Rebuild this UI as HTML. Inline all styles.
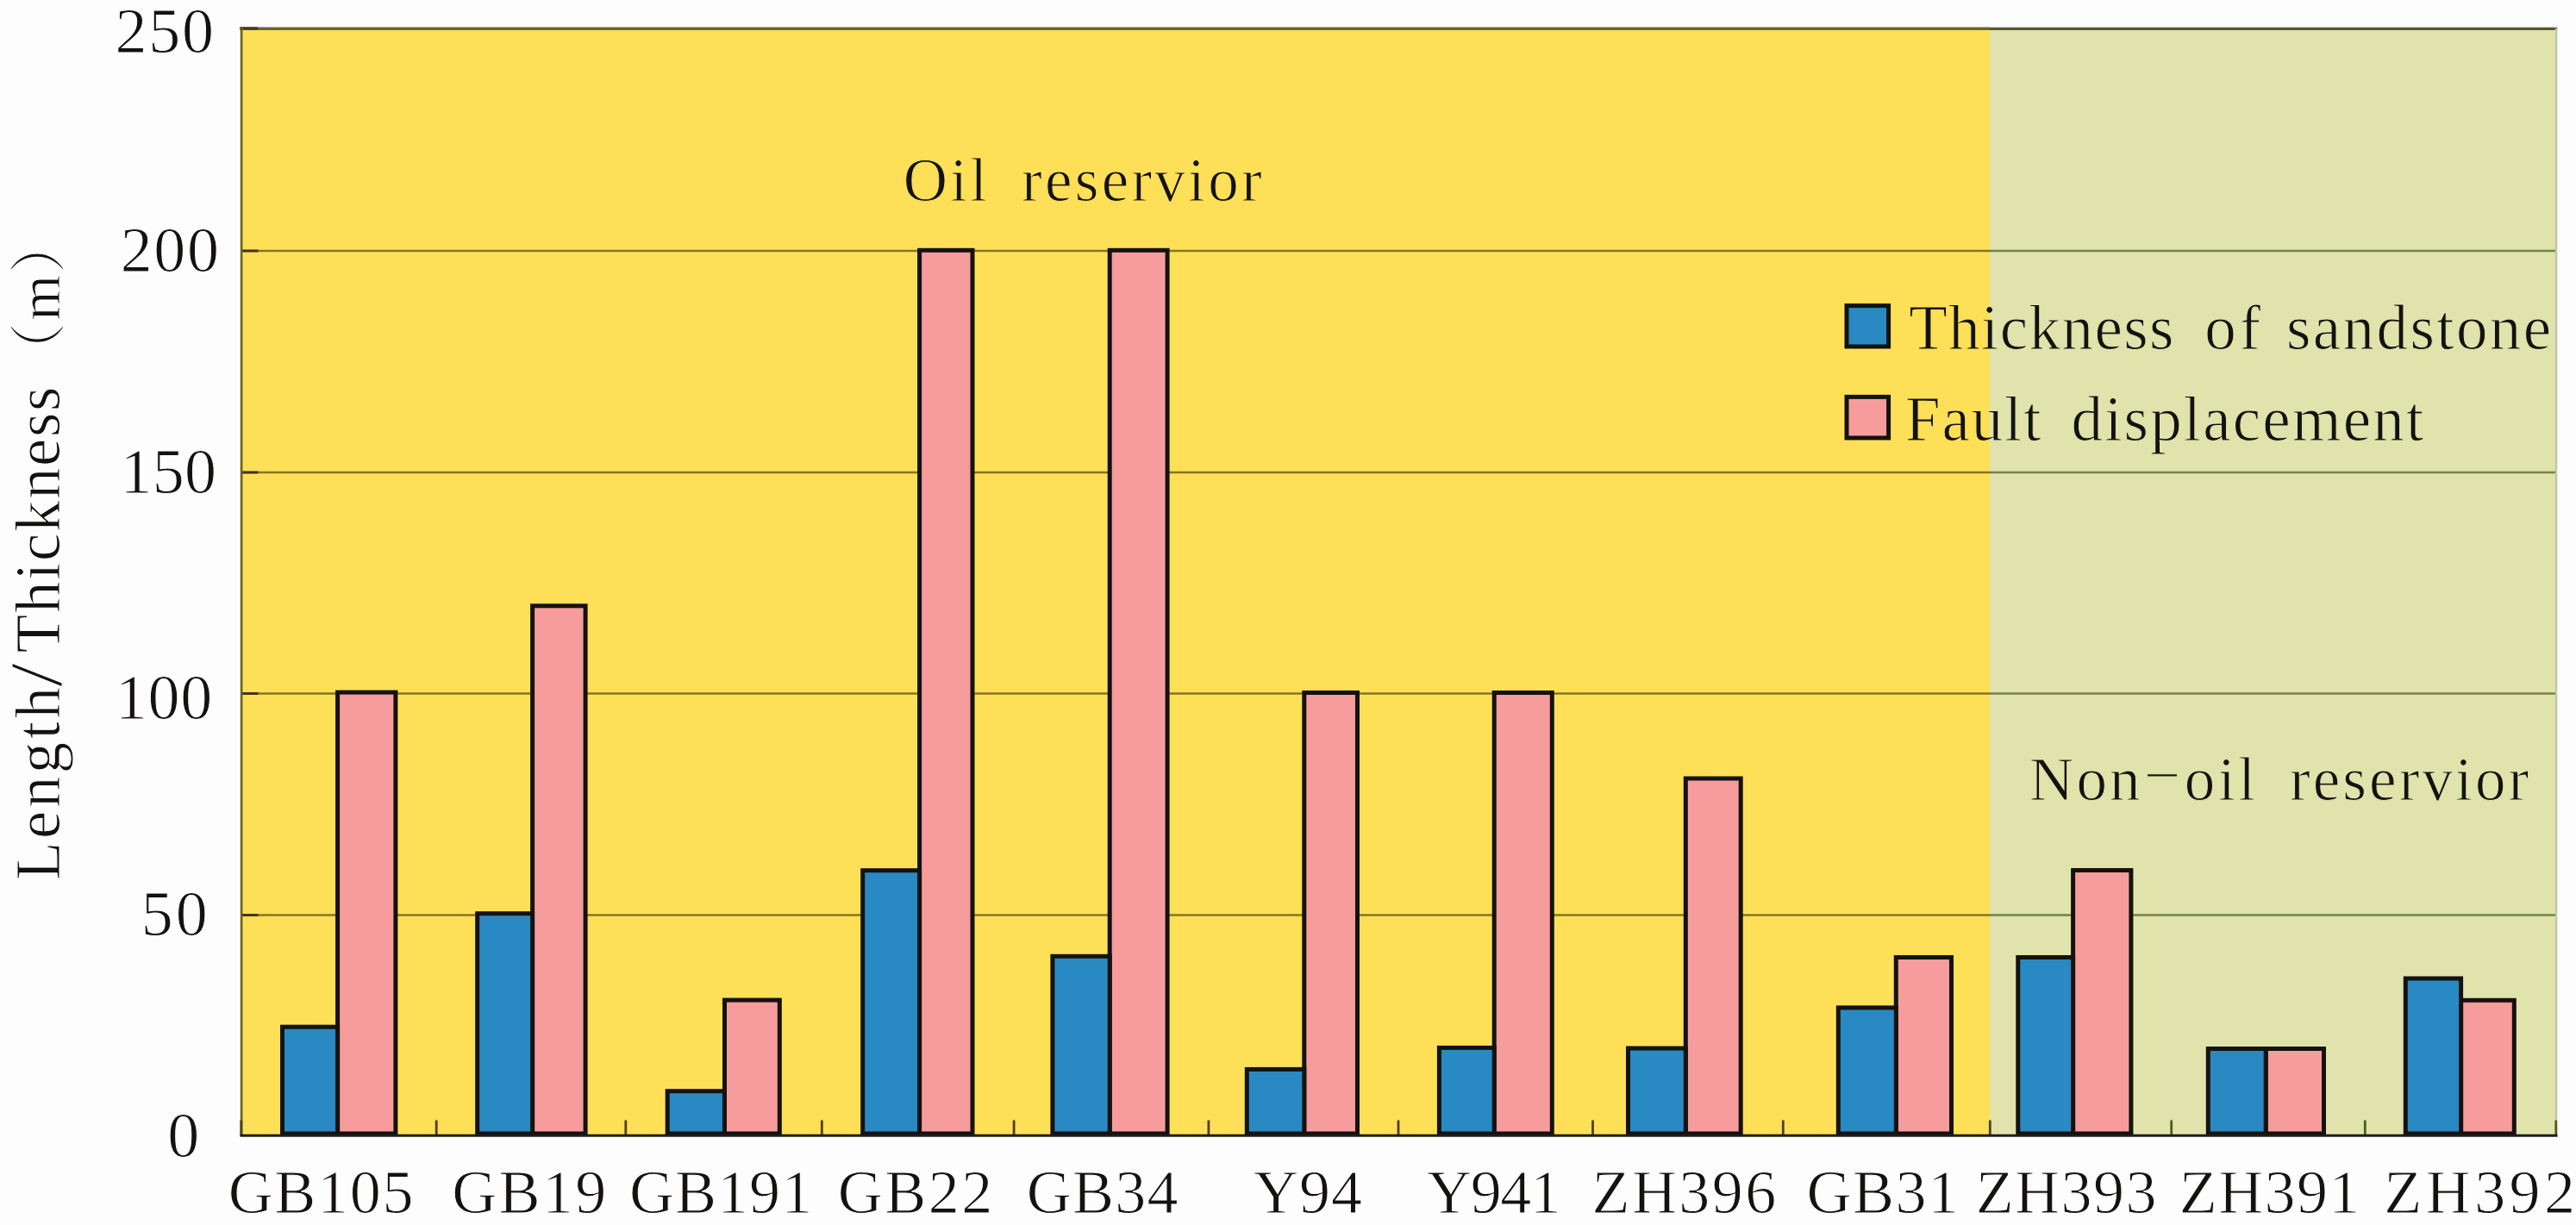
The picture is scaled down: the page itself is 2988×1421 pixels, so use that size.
<!DOCTYPE html>
<html lang="en"><head><meta charset="utf-8"><title>Oil reservoir chart</title>
<style>html,body{margin:0;padding:0;background:#fdfdfd}body{width:2988px;height:1421px;overflow:hidden}svg{display:block}text{font-family:"Liberation Serif","Noto Serif CJK SC",serif;fill:#141210;white-space:pre;font-kerning:none;stroke-width:1;stroke:#fdfdfd}text.p{stroke:url(#bgp)}</style></head><body>
<svg width="2988" height="1421" viewBox="0 0 2988 1421">
<defs><linearGradient id="bgp" gradientUnits="userSpaceOnUse" x1="0" y1="0" x2="2988" y2="0"><stop offset="0.77242" stop-color="#fde058"/><stop offset="0.77242" stop-color="#e0e4ac"/></linearGradient></defs>
<rect x="0" y="0" width="2988" height="1421" fill="#fdfdfd"/>
<rect x="280.0" y="33.0" width="2028.0" height="1284.0" fill="#fde058"/>
<rect x="2308.0" y="33.0" width="657.5" height="1284.0" fill="#e0e4ac"/>
<line x1="280.0" y1="291.0" x2="2308.0" y2="291.0" stroke="#86771c" stroke-width="2.7"/>
<line x1="2308.0" y1="291.0" x2="2965.5" y2="291.0" stroke="#73824a" stroke-width="2.7"/>
<line x1="280.0" y1="548.0" x2="2308.0" y2="548.0" stroke="#86771c" stroke-width="2.7"/>
<line x1="2308.0" y1="548.0" x2="2965.5" y2="548.0" stroke="#73824a" stroke-width="2.7"/>
<line x1="280.0" y1="804.5" x2="2308.0" y2="804.5" stroke="#86771c" stroke-width="2.7"/>
<line x1="2308.0" y1="804.5" x2="2965.5" y2="804.5" stroke="#73824a" stroke-width="2.7"/>
<line x1="280.0" y1="1061.5" x2="2308.0" y2="1061.5" stroke="#86771c" stroke-width="2.7"/>
<line x1="2308.0" y1="1061.5" x2="2965.5" y2="1061.5" stroke="#73824a" stroke-width="2.7"/>
<line x1="280.0" y1="291.0" x2="299.5" y2="291.0" stroke="#3c3420" stroke-width="2.9"/>
<line x1="280.0" y1="548.0" x2="299.5" y2="548.0" stroke="#3c3420" stroke-width="2.9"/>
<line x1="280.0" y1="804.5" x2="299.5" y2="804.5" stroke="#3c3420" stroke-width="2.9"/>
<line x1="280.0" y1="1061.5" x2="299.5" y2="1061.5" stroke="#3c3420" stroke-width="2.9"/>
<line x1="278.4" y1="33.2" x2="2308.0" y2="33.2" stroke="#6e6238" stroke-width="3.5"/>
<line x1="2308.0" y1="33.4" x2="2966.3" y2="33.4" stroke="#5a5632" stroke-width="3.2"/>
<line x1="278.4" y1="33.0" x2="299.0" y2="33.0" stroke="#463c28" stroke-width="3.4"/>
<line x1="280.1" y1="31.5" x2="280.1" y2="1317.0" stroke="#6e6419" stroke-width="2.7"/>
<line x1="2965.0" y1="33.0" x2="2965.0" y2="1317.0" stroke="#c2c6a4" stroke-width="2.4"/>
<line x1="279.8" y1="1299.5" x2="279.8" y2="1317.0" stroke="#4b4119" stroke-width="2.8"/>
<line x1="506.2" y1="1299.5" x2="506.2" y2="1317.0" stroke="#4b4119" stroke-width="2.8"/>
<line x1="725.8" y1="1299.5" x2="725.8" y2="1317.0" stroke="#4b4119" stroke-width="2.8"/>
<line x1="953.3" y1="1299.5" x2="953.3" y2="1317.0" stroke="#4b4119" stroke-width="2.8"/>
<line x1="1176.1" y1="1299.5" x2="1176.1" y2="1317.0" stroke="#4b4119" stroke-width="2.8"/>
<line x1="1401.9" y1="1299.5" x2="1401.9" y2="1317.0" stroke="#4b4119" stroke-width="2.8"/>
<line x1="1622.0" y1="1299.5" x2="1622.0" y2="1317.0" stroke="#4b4119" stroke-width="2.8"/>
<line x1="1847.5" y1="1299.5" x2="1847.5" y2="1317.0" stroke="#4b4119" stroke-width="2.8"/>
<line x1="2068.3" y1="1299.5" x2="2068.3" y2="1317.0" stroke="#4b4119" stroke-width="2.8"/>
<line x1="2308.3" y1="1299.5" x2="2308.3" y2="1317.0" stroke="#4b4119" stroke-width="2.8"/>
<line x1="2518.7" y1="1299.5" x2="2518.7" y2="1317.0" stroke="#4f5a22" stroke-width="2.8"/>
<line x1="2743.3" y1="1299.5" x2="2743.3" y2="1317.0" stroke="#4f5a22" stroke-width="2.8"/>
<line x1="2964.8" y1="1299.5" x2="2964.8" y2="1317.0" stroke="#4f5a22" stroke-width="2.8"/>
<rect x="391.6" y="803.1" width="67.3" height="511.9" fill="#f69c9c" stroke="#141210" stroke-width="5.0"/>
<rect x="327.5" y="1191.2" width="64.1" height="123.8" fill="#2989c2" stroke="#141210" stroke-width="5.0"/>
<rect x="617.6" y="702.8" width="61.5" height="612.2" fill="#f69c9c" stroke="#141210" stroke-width="5.0"/>
<rect x="553.7" y="1059.7" width="63.9" height="255.3" fill="#2989c2" stroke="#141210" stroke-width="5.0"/>
<rect x="840.5" y="1160.1" width="63.8" height="154.9" fill="#f69c9c" stroke="#141210" stroke-width="5.0"/>
<rect x="774.2" y="1265.7" width="66.3" height="49.3" fill="#2989c2" stroke="#141210" stroke-width="5.0"/>
<rect x="1066.6" y="290.3" width="61.4" height="1024.7" fill="#f69c9c" stroke="#141210" stroke-width="5.0"/>
<rect x="1000.7" y="1009.7" width="65.9" height="305.3" fill="#2989c2" stroke="#141210" stroke-width="5.0"/>
<rect x="1287.2" y="290.3" width="66.9" height="1024.7" fill="#f69c9c" stroke="#141210" stroke-width="5.0"/>
<rect x="1220.9" y="1109.3" width="66.3" height="205.7" fill="#2989c2" stroke="#141210" stroke-width="5.0"/>
<rect x="1512.8" y="803.5" width="61.7" height="511.5" fill="#f69c9c" stroke="#141210" stroke-width="5.0"/>
<rect x="1446.3" y="1240.4" width="66.5" height="74.6" fill="#2989c2" stroke="#141210" stroke-width="5.0"/>
<rect x="1733.2" y="803.5" width="67.1" height="511.5" fill="#f69c9c" stroke="#141210" stroke-width="5.0"/>
<rect x="1669.4" y="1215.4" width="63.8" height="99.6" fill="#2989c2" stroke="#141210" stroke-width="5.0"/>
<rect x="1955.3" y="903.0" width="63.9" height="412.0" fill="#f69c9c" stroke="#141210" stroke-width="5.0"/>
<rect x="1888.5" y="1216.0" width="66.8" height="99.0" fill="#2989c2" stroke="#141210" stroke-width="5.0"/>
<rect x="2199.3" y="1110.5" width="64.2" height="204.5" fill="#f69c9c" stroke="#141210" stroke-width="5.0"/>
<rect x="2132.3" y="1168.9" width="67.0" height="146.1" fill="#2989c2" stroke="#141210" stroke-width="5.0"/>
<rect x="2404.6" y="1009.5" width="67.3" height="305.5" fill="#f69c9c" stroke="#141210" stroke-width="5.0"/>
<rect x="2340.8" y="1110.5" width="63.8" height="204.5" fill="#2989c2" stroke="#141210" stroke-width="5.0"/>
<rect x="2628.2" y="1216.5" width="67.3" height="98.5" fill="#f69c9c" stroke="#141210" stroke-width="5.0"/>
<rect x="2561.3" y="1216.5" width="66.9" height="98.5" fill="#2989c2" stroke="#141210" stroke-width="5.0"/>
<rect x="2854.6" y="1160.3" width="61.7" height="154.7" fill="#f69c9c" stroke="#141210" stroke-width="5.0"/>
<rect x="2790.3" y="1135.0" width="64.3" height="180.0" fill="#2989c2" stroke="#141210" stroke-width="5.0"/>
<line x1="278.4" y1="1317.3" x2="2966.5" y2="1317.3" stroke="#1e1b18" stroke-width="3.1"/>
<text x="264.7" y="1407.0" font-size="72" letter-spacing="1.69">GB105</text>
<text x="524.3" y="1407.0" font-size="72" letter-spacing="2.30">GB19</text>
<text x="729.9" y="1407.0" font-size="72" letter-spacing="1.06">GB191</text>
<text x="971.8" y="1407.0" font-size="72" letter-spacing="2.44">GB22</text>
<text x="1190.8" y="1407.0" font-size="72" letter-spacing="1.25">GB34</text>
<text x="1453.9" y="1407.0" font-size="72" letter-spacing="1.07">Y94</text>
<text x="1655.1" y="1407.0" font-size="72" letter-spacing="-1.42">Y941</text>
<text x="1846.6" y="1407.0" font-size="72" letter-spacing="2.40">ZH396</text>
<text x="2095.4" y="1407.0" font-size="72" letter-spacing="1.52">GB31</text>
<text x="2291.7" y="1407.0" font-size="72" letter-spacing="1.45">ZH393</text>
<text x="2527.8" y="1407.0" font-size="72" letter-spacing="1.40">ZH391</text>
<text x="2765.3" y="1407.0" font-size="72" letter-spacing="4.44">ZH392</text>
<text x="133.4" y="60.5" font-size="74" letter-spacing="1.84">250</text>
<text x="139.7" y="314.5" font-size="74" letter-spacing="1.64">200</text>
<text x="139.5" y="571.8" font-size="74" letter-spacing="0.31">150</text>
<text x="133.7" y="834.0" font-size="74" letter-spacing="0.81">100</text>
<text x="163.8" y="1084.5" font-size="74" letter-spacing="2.92">50</text>
<text x="194.2" y="1342.0" font-size="74" letter-spacing="0.00">0</text>
<text font-size="71" class="p"><tspan x="1047.7" y="232.7" letter-spacing="3.30">Oil </tspan><tspan x="1185.0" y="232.7" letter-spacing="3.28">reservior</tspan></text>
<rect x="2142.0" y="354.6" width="48.6" height="47.4" fill="#2989c2" stroke="#141210" stroke-width="5"/>
<rect x="2142.0" y="460.4" width="48.6" height="47.6" fill="#f69c9c" stroke="#141210" stroke-width="5"/>
<text font-size="73" class="p"><tspan x="2214.2" y="404.5" letter-spacing="1.41">Thickness </tspan><tspan x="2557.2" y="404.5" letter-spacing="3.97">of </tspan><tspan x="2652.0" y="404.5" letter-spacing="2.40">sandstone</tspan></text>
<text font-size="73" class="p"><tspan x="2209.9" y="510.6" letter-spacing="1.89">Fault </tspan><tspan x="2402.5" y="510.6" letter-spacing="2.15">displacement</tspan></text>
<text font-size="71" class="p"><tspan x="2354.0" y="928.4" letter-spacing="3.12">Non</tspan><tspan x="2491.1" y="914.9" letter-spacing="0.00" font-size="68">–</tspan><tspan x="2533.8" y="928.4" letter-spacing="3.59">oil </tspan><tspan x="2655.9" y="928.4" letter-spacing="3.13">reservior</tspan></text>
<text transform="rotate(-90)"><tspan x="-1020.9" y="68.9" font-size="73" letter-spacing="3.42">Length</tspan><tspan x="-796.7" y="70.9" font-size="86" textLength="27.6" lengthAdjust="spacingAndGlyphs">/</tspan><tspan x="-757.2" y="68.9" font-size="73" letter-spacing="1.58">Thickness</tspan><tspan x="-440.2" y="67.8" font-size="66" letter-spacing="0.00">（</tspan><tspan x="-371.7" y="69.0" font-size="68" letter-spacing="0.00">m</tspan><tspan x="-317.0" y="67.8" font-size="66" letter-spacing="0.00">）</tspan></text>
</svg></body></html>
